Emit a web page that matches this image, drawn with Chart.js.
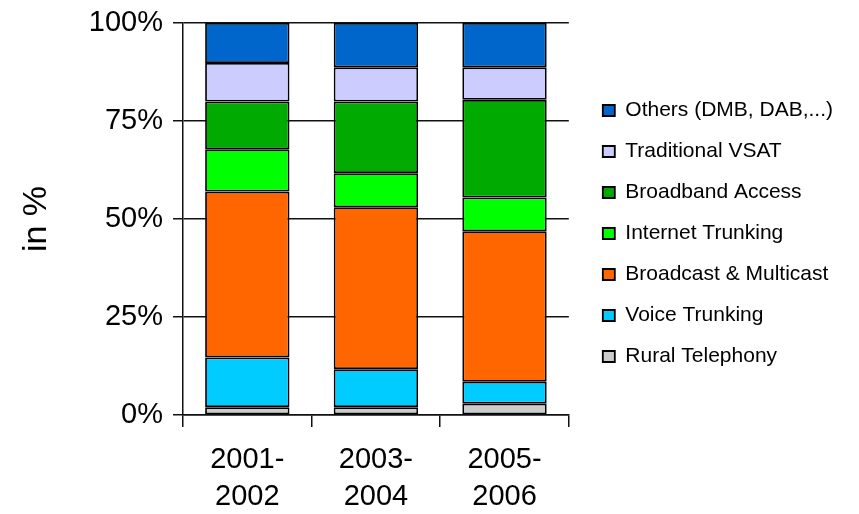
<!DOCTYPE html>
<html>
<head>
<meta charset="utf-8">
<script src="https://cdn.jsdelivr.net/npm/chart.js@4"></script>
<style>
  html, body { margin: 0; padding: 0; background: #fff; }
  #wrap { width: 859px; height: 514px; position: relative; }
</style>
</head>
<body>
<div id="wrap"><canvas id="chart"></canvas></div>
<script>
// Data (share in %, per period)
const categories = [["2001-", "2002"], ["2003-", "2004"], ["2005-", "2006"]];
const rural = [2.0, 2.0, 2.9];
const voice = [12.7, 9.7, 5.6];
const broadcast = [42.3, 41.3, 38.4];
const internet = [10.8, 8.7, 8.6];
const broadband = [12.2, 18.3, 24.9];
const vsat = [9.8, 8.7, 8.3];
const others = [10.2, 11.3, 11.3];
const yTicks = [0, 25, 50, 75, 100];

const FONT = "'Liberation Sans', Arial, sans-serif";

function ds(label, data, color) {
  return {
    label: label,
    data: data,
    backgroundColor: color,
    borderColor: "#000",
    borderWidth: 1.8,
    borderSkipped: false,
  };
}

const chart = new Chart(document.getElementById("chart"), {
  type: "bar",
  data: {
    labels: categories,
    datasets: [
      ds("Rural Telephony", rural, "#cccccc"),
      ds("Voice Trunking", voice, "#00ccff"),
      ds("Broadcast & Multicast", broadcast, "#ff6600"),
      ds("Internet Trunking", internet, "#00ff00"),
      ds("Broadband Access", broadband, "#00aa00"),
      ds("Traditional VSAT", vsat, "#ccccff"),
      ds("Others (DMB, DAB,...)", others, "#0066cc"),
    ],
  },
  options: {
    responsive: true,
    maintainAspectRatio: false,
    animation: false,
    layout: { padding: { top: 19, bottom: 0, left: 0, right: 16 } },
    datasets: {
      bar: { categoryPercentage: 1, barPercentage: 0.656 },
    },
    scales: {
      x: {
        stacked: true,
        grid: { display: true, offset: true, drawOnChartArea: false, tickLength: 12, color: "#111", lineWidth: 1.5 },
        border: { display: true, color: "#111", width: 1.5 },
        ticks: { color: "#000", padding: 14, autoSkip: false, maxRotation: 0, font: { family: FONT, size: 29, lineHeight: 1.28 } },
        afterFit(s) { s.height = 99; },
      },
      y: {
        stacked: true,
        min: 0,
        max: 100,
        afterBuildTicks(s) { s.ticks = yTicks.map(v => ({ value: v })); },
        grid: { color: "#111", lineWidth: 1.5, tickLength: 10 },
        border: { display: true, color: "#111", width: 1.5 },
        ticks: { color: "#000", padding: 10, font: { family: FONT, size: 29, lineHeight: 0.9 }, callback: v => v + "%" },
        title: { display: true, text: "in %", color: "#000", padding: { top: 16, bottom: 0 }, font: { family: FONT, size: 34 } },
        afterFit(s) { s.width = 183; },
      },
      spacer: {
        position: "right",
        display: true,
        grid: { display: false },
        border: { display: false },
        ticks: { display: false },
        afterFit(s) { s.width = 14; },
      },
    },
    plugins: {
      legend: {
        position: "right",
        align: "start",
        reverse: true,
        maxWidth: 300,
        title: { display: true, text: "", padding: { top: 49, bottom: 0 }, font: { size: 10 } },
        labels: {
          color: "#000",
          boxWidth: 12,
          boxHeight: 11,
          padding: 20,
          font: { family: FONT, size: 21 },
        },
      },
      tooltip: { enabled: false },
    },
  },
});
</script>
</body>
</html>
